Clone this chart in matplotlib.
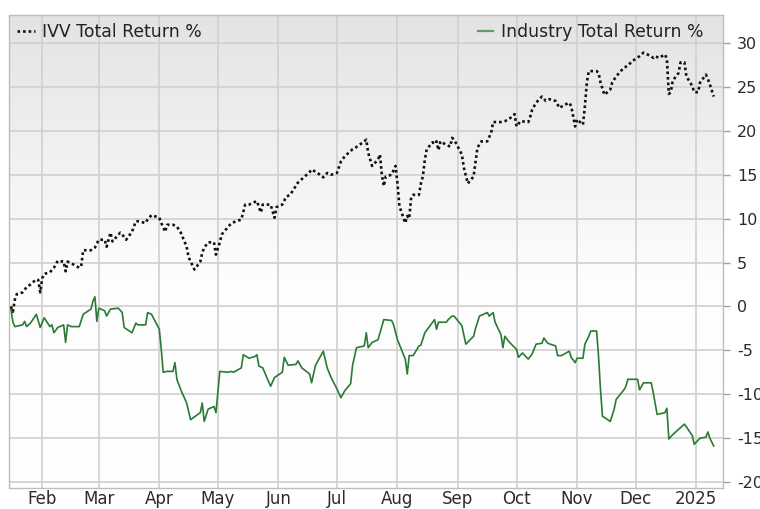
import matplotlib
matplotlib.use('Agg')
import matplotlib.pyplot as plt
import numpy as np
import pandas as pd
from matplotlib.lines import Line2D
from matplotlib.colors import LinearSegmentedColormap

# ---------------- data ----------------
ivv_dates = [
    '2024-01-16', '2024-01-17', '2024-01-18', '2024-01-19', '2024-01-22', '2024-01-24', '2024-01-26',
    '2024-01-29', '2024-01-30', '2024-01-31', '2024-02-01', '2024-02-02', '2024-02-05', '2024-02-07',
    '2024-02-09', '2024-02-12', '2024-02-13', '2024-02-14', '2024-02-16', '2024-02-20', '2024-02-21',
    '2024-02-22', '2024-02-26', '2024-02-28', '2024-03-01', '2024-03-04', '2024-03-05', '2024-03-07',
    '2024-03-08', '2024-03-12', '2024-03-13', '2024-03-15', '2024-03-18', '2024-03-20', '2024-03-21',
    '2024-03-25', '2024-03-26', '2024-03-28', '2024-04-01', '2024-04-02', '2024-04-04', '2024-04-05',
    '2024-04-08', '2024-04-10', '2024-04-12', '2024-04-15', '2024-04-16', '2024-04-19', '2024-04-22',
    '2024-04-23', '2024-04-24', '2024-04-26', '2024-04-29', '2024-04-30', '2024-05-02', '2024-05-03',
    '2024-05-06', '2024-05-08', '2024-05-13', '2024-05-15', '2024-05-17', '2024-05-21', '2024-05-23',
    '2024-05-24', '2024-05-28', '2024-05-30', '2024-05-31', '2024-06-03', '2024-06-05', '2024-06-07',
    '2024-06-11', '2024-06-13', '2024-06-17', '2024-06-18', '2024-06-21', '2024-06-24', '2024-06-26',
    '2024-06-28', '2024-07-01', '2024-07-03', '2024-07-05', '2024-07-09', '2024-07-10', '2024-07-15',
    '2024-07-16', '2024-07-17', '2024-07-19', '2024-07-22', '2024-07-23', '2024-07-24', '2024-07-25',
    '2024-07-26', '2024-07-29', '2024-07-31', '2024-08-01', '2024-08-02', '2024-08-05', '2024-08-06',
    '2024-08-07', '2024-08-08', '2024-08-09', '2024-08-12', '2024-08-13', '2024-08-14', '2024-08-15',
    '2024-08-16', '2024-08-19', '2024-08-20', '2024-08-21', '2024-08-22', '2024-08-23', '2024-08-26',
    '2024-08-28', '2024-08-29', '2024-08-30', '2024-09-03', '2024-09-04', '2024-09-06', '2024-09-09',
    '2024-09-10', '2024-09-11', '2024-09-13', '2024-09-16', '2024-09-18', '2024-09-19', '2024-09-23',
    '2024-09-25', '2024-09-27', '2024-09-30', '2024-10-01', '2024-10-03', '2024-10-07', '2024-10-08',
    '2024-10-09', '2024-10-11', '2024-10-14', '2024-10-16', '2024-10-18', '2024-10-21', '2024-10-23',
    '2024-10-25', '2024-10-28', '2024-10-29', '2024-10-31', '2024-11-01', '2024-11-04', '2024-11-05',
    '2024-11-06', '2024-11-07', '2024-11-11', '2024-11-12', '2024-11-13', '2024-11-15', '2024-11-18',
    '2024-11-19', '2024-11-21', '2024-11-25', '2024-11-27', '2024-11-29', '2024-12-03', '2024-12-05',
    '2024-12-09', '2024-12-10', '2024-12-11', '2024-12-13', '2024-12-16', '2024-12-17', '2024-12-18',
    '2024-12-19', '2024-12-20', '2024-12-23', '2024-12-24', '2024-12-26', '2024-12-27', '2024-12-30',
    '2024-12-31', '2025-01-02', '2025-01-03', '2025-01-06', '2025-01-07', '2025-01-08', '2025-01-10',
]
ivv_values = [
    0.0, -0.6, 0.8, 1.4, 1.6, 2.2, 2.5,
    3.1, 3.0, 1.6, 3.2, 3.7, 3.9, 4.4,
    5.2, 5.1, 4.0, 5.1, 4.9, 4.4, 4.6,
    6.4, 6.4, 6.7, 7.6, 7.6, 6.8, 8.4,
    7.4, 8.4, 8.2, 7.6, 8.5, 9.7, 9.7,
    9.5, 9.9, 10.4, 10.1, 9.5, 8.5, 9.3,
    9.3, 9.1, 8.4, 6.8, 5.6, 4.2, 5.1,
    6.1, 6.7, 7.3, 7.3, 5.9, 7.3, 8.2,
    9.0, 9.5, 9.9, 11.6, 11.6, 12.0, 10.7,
    11.6, 11.6, 10.1, 11.3, 11.6, 12.5, 12.7,
    14.1, 14.5, 15.3, 15.6, 15.2, 14.7, 15.2,
    15.0, 15.2, 16.5, 17.1, 17.9, 18.0, 18.8,
    19.0, 17.5, 16.0, 16.7, 17.3, 15.0, 13.7,
    14.8, 15.0, 16.0, 14.0, 11.4, 9.5, 10.3,
    10.0, 12.4, 12.7, 12.7, 14.0, 14.8, 16.7,
    17.9, 18.7, 18.5, 18.8, 17.8, 18.8, 18.4,
    18.2, 19.2, 19.0, 17.3, 15.8, 14.0, 14.8,
    16.5, 18.1, 18.8, 18.8, 19.8, 21.0, 21.0,
    21.1, 21.3, 21.9, 20.5, 21.1, 21.0, 21.6,
    22.4, 23.2, 23.9, 23.4, 23.6, 23.4, 22.6,
    22.9, 23.2, 22.8, 20.5, 21.3, 20.7, 22.8,
    25.5, 26.8, 26.8, 26.6, 25.5, 24.1, 24.7,
    25.5, 26.2, 27.2, 27.4, 27.9, 28.5, 28.9,
    28.5, 28.3, 28.5, 28.3, 28.7, 28.2, 24.2,
    24.4, 25.7, 26.6, 27.8, 27.8, 26.2, 25.1,
    24.4, 24.4, 25.5, 26.4, 25.9, 25.3, 23.9,
]

industry_dates = [
    '2024-01-16', '2024-01-17', '2024-01-18', '2024-01-22', '2024-01-23', '2024-01-24', '2024-01-26',
    '2024-01-29', '2024-01-31', '2024-02-02', '2024-02-05', '2024-02-06', '2024-02-07', '2024-02-09',
    '2024-02-12', '2024-02-13', '2024-02-14', '2024-02-16', '2024-02-20', '2024-02-22', '2024-02-26',
    '2024-02-27', '2024-02-28', '2024-02-29', '2024-03-01', '2024-03-04', '2024-03-05', '2024-03-07',
    '2024-03-11', '2024-03-13', '2024-03-14', '2024-03-18', '2024-03-20', '2024-03-21', '2024-03-25',
    '2024-03-26', '2024-03-28', '2024-04-01', '2024-04-02', '2024-04-03', '2024-04-05', '2024-04-08',
    '2024-04-09', '2024-04-10', '2024-04-12', '2024-04-15', '2024-04-17', '2024-04-22', '2024-04-23',
    '2024-04-24', '2024-04-26', '2024-04-29', '2024-04-30', '2024-05-02', '2024-05-06', '2024-05-08',
    '2024-05-09', '2024-05-13', '2024-05-14', '2024-05-17', '2024-05-20', '2024-05-21', '2024-05-22',
    '2024-05-24', '2024-05-28', '2024-05-30', '2024-06-03', '2024-06-04', '2024-06-06', '2024-06-10',
    '2024-06-11', '2024-06-13', '2024-06-17', '2024-06-18', '2024-06-20', '2024-06-24', '2024-06-26',
    '2024-06-28', '2024-07-01', '2024-07-03', '2024-07-05', '2024-07-08', '2024-07-09', '2024-07-11',
    '2024-07-15', '2024-07-16', '2024-07-17', '2024-07-19', '2024-07-22', '2024-07-25', '2024-07-29',
    '2024-07-30', '2024-08-01', '2024-08-05', '2024-08-06', '2024-08-07', '2024-08-09', '2024-08-12',
    '2024-08-13', '2024-08-15', '2024-08-19', '2024-08-20', '2024-08-21', '2024-08-22', '2024-08-26',
    '2024-08-27', '2024-08-29', '2024-08-30', '2024-09-03', '2024-09-05', '2024-09-09', '2024-09-10',
    '2024-09-12', '2024-09-16', '2024-09-17', '2024-09-19', '2024-09-20', '2024-09-23', '2024-09-24',
    '2024-09-25', '2024-09-27', '2024-10-01', '2024-10-02', '2024-10-04', '2024-10-07', '2024-10-09',
    '2024-10-11', '2024-10-14', '2024-10-15', '2024-10-17', '2024-10-21', '2024-10-22', '2024-10-24',
    '2024-10-28', '2024-10-29', '2024-10-31', '2024-11-01', '2024-11-04', '2024-11-05', '2024-11-07',
    '2024-11-08', '2024-11-11', '2024-11-12', '2024-11-13', '2024-11-14', '2024-11-18', '2024-11-20',
    '2024-11-21', '2024-11-25', '2024-11-26', '2024-11-27', '2024-11-29', '2024-12-02', '2024-12-03',
    '2024-12-04', '2024-12-05', '2024-12-09', '2024-12-10', '2024-12-12', '2024-12-16', '2024-12-17',
    '2024-12-18', '2024-12-20', '2024-12-23', '2024-12-26', '2024-12-30', '2024-12-31', '2025-01-03',
    '2025-01-06', '2025-01-07', '2025-01-08', '2025-01-10',
]
industry_values = [
    -0.3, -1.8, -2.3, -2.1, -1.7, -2.3, -1.9,
    -0.9, -2.4, -1.3, -2.3, -2.1, -3.0, -2.4,
    -2.1, -4.1, -2.1, -2.3, -2.3, -0.9, -0.3,
    0.6, 1.1, -1.7, -0.2, -0.5, -1.1, -0.3,
    -0.2, -0.7, -2.4, -3.0, -1.9, -2.1, -2.1,
    -0.7, -0.9, -2.6, -4.9, -7.5, -7.4, -7.4,
    -6.4, -8.3, -9.5, -11.0, -12.9, -12.1, -11.0,
    -13.1, -11.7, -11.4, -12.1, -7.4, -7.5, -7.4,
    -7.5, -7.0, -5.5, -5.9, -5.7, -5.5, -6.8,
    -7.0, -9.1, -8.1, -7.5, -5.8, -6.7, -6.6,
    -6.2, -7.0, -7.7, -8.7, -6.7, -5.1, -7.0,
    -8.1, -9.4, -10.4, -9.6, -8.8, -6.7, -4.7,
    -4.5, -3.0, -4.7, -4.1, -3.8, -1.5, -1.6,
    -2.1, -3.8, -6.0, -7.7, -5.6, -5.6, -4.5,
    -4.4, -3.0, -1.8, -1.5, -2.6, -1.8, -1.8,
    -1.5, -1.1, -1.1, -2.2, -4.3, -3.4, -2.5,
    -1.1, -0.7, -1.1, -0.7, -1.8, -3.2, -4.7,
    -3.4, -4.0, -4.9, -5.8, -5.3, -6.0, -5.4,
    -4.3, -4.2, -3.6, -4.2, -4.5, -5.6, -5.6,
    -5.1, -5.8, -6.4, -5.9, -5.9, -4.3, -3.4,
    -2.8, -2.8, -5.7, -9.5, -12.5, -13.1, -11.7,
    -10.6, -9.5, -9.1, -8.3, -8.3, -8.3, -9.5,
    -9.1, -8.7, -8.7, -9.8, -12.3, -12.1, -11.6,
    -15.1, -14.6, -14.0, -13.4, -14.7, -15.7, -15.0,
    -14.9, -14.3, -15.0, -15.9,
]

month_ticks = ['2024-02-01', '2024-03-01', '2024-04-01', '2024-05-01', '2024-06-01', '2024-07-01',
               '2024-08-01', '2024-09-01', '2024-10-01', '2024-11-01', '2024-12-01', '2025-01-01']
month_labels = ['Feb', 'Mar', 'Apr', 'May', 'Jun', 'Jul', 'Aug', 'Sep', 'Oct', 'Nov', 'Dec', '2025']
y_ticks = [-20, -15, -10, -5, 0, 5, 10, 15, 20, 25, 30]
series_labels = ['IVV Total Return %', 'Industry Total Return %']

# ---------------- figure ----------------
plt.rcParams['font.family'] = ['DejaVu Sans']
W, H = 760, 509
fig = plt.figure(figsize=(W / 100, H / 100), dpi=100)
ax = fig.add_axes([9 / W, 21 / H, 714 / W, 473 / H])

# background gradient
grad = np.linspace(0, 1, 256).reshape(-1, 1)
cmap = LinearSegmentedColormap.from_list(
    'bg', [(0.0, '#ffffff'), (0.45, '#fdfdfd'), (1.0, '#e3e3e3')])
ax.imshow(grad, extent=[0, 1, 0, 1], transform=ax.transAxes, origin='lower',
          cmap=cmap, aspect='auto', zorder=0, interpolation='bilinear')

ivv_x = pd.to_datetime(ivv_dates)
ind_x = pd.to_datetime(industry_dates)

ax.plot(ind_x, industry_values, color='#2b7a34', lw=1.2, zorder=3)
ax.plot(ivv_x, ivv_values, color='#111111', lw=1.9, linestyle=(0, (1, 1.1)),
        dash_capstyle='butt', zorder=4)

ax.set_xlim(pd.Timestamp('2024-01-15'), pd.Timestamp('2025-01-14 18:00'))
ax.set_ylim(-20.68, 33.19)

ax.set_xticks(pd.to_datetime(month_ticks))
ax.set_xticklabels(month_labels)
ax.set_yticks(y_ticks)
ax.set_yticklabels([str(v) for v in y_ticks])

ax.yaxis.tick_right()
ax.tick_params(axis='y', length=5, width=1, color='#a0a0a0', pad=5,
               labelsize=11.5, labelcolor='#2b2b2b')
ax.tick_params(axis='x', length=0, pad=1.5, labelsize=12, labelcolor='#2b2b2b')

ax.set_axisbelow(True)
ax.grid(True, color='#d0d0d0', lw=1.2)
for s in ax.spines.values():
    s.set_color('#bdbdbd')
    s.set_linewidth(1.0)

# legends
h_ivv = Line2D([], [], color='#111111', lw=1.9, linestyle=(0, (1, 1.1)), dash_capstyle='butt')
h_ind = Line2D([], [], color='#5f9f66', lw=1.6)
leg1 = ax.legend(handles=[h_ivv], labels=[series_labels[0]], loc='center left',
                 bbox_to_anchor=(0.0112, 0.964), frameon=False, borderpad=0,
                 borderaxespad=0, handlelength=1.03, handletextpad=0.4,
                 fontsize=12.4, labelcolor='#222222')
ax.add_artist(leg1)
ax.legend(handles=[h_ind], labels=[series_labels[1]], loc='center right',
          bbox_to_anchor=(0.973, 0.964), frameon=False, borderpad=0,
          borderaxespad=0, handlelength=0.92, handletextpad=0.45,
          fontsize=12.4, labelcolor='#222222')

fig.savefig('out.png', dpi=100)
